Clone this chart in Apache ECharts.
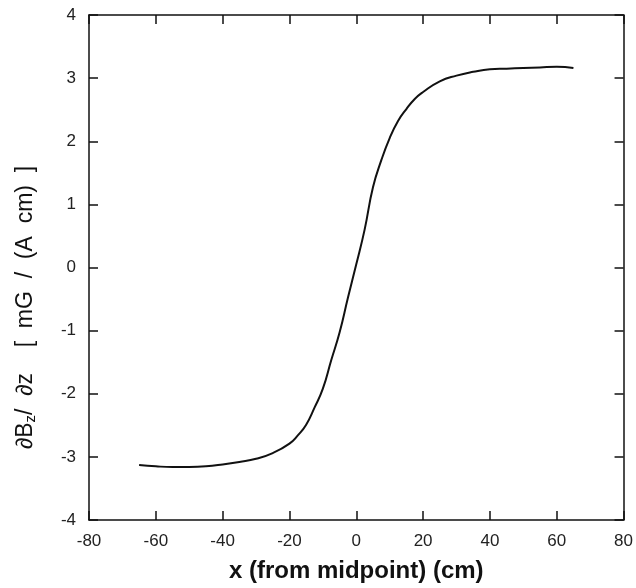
<!DOCTYPE html>
<html>
<head>
<meta charset="utf-8">
<script src="https://cdn.jsdelivr.net/npm/echarts@6/dist/echarts.min.js"></script>
<style>
  html, body { margin: 0; padding: 0; background: #fff; }
  #chart { width: 636px; height: 588px; }
</style>
</head>
<body>
<div id="chart"></div>
<script>
// x position (cm) and gradient values
const xPos = [-65, -60, -55, -50, -45, -40, -35, -30, -25, -20, -17.5, -15, -12.5, -10, -7.5, -5, -2.5,
  0, 2.5, 5, 7.5, 10, 12.5, 15, 17.5, 20, 25, 30, 35, 40, 45, 50, 55, 60, 65]
const gradient = [-3.13, -3.15, -3.16, -3.16, -3.15, -3.12, -3.08, -3.03, -2.94, -2.79, -2.66, -2.49, -2.22,
  -1.92, -1.47, -1.03, -0.48, 0.05, 0.60, 1.27, 1.70, 2.05, 2.32, 2.51, 2.67, 2.78, 2.95, 3.04, 3.10,
  3.14, 3.15, 3.16, 3.17, 3.18, 3.16]
const xTicks = [-80, -60, -40, -20, 0, 20, 40, 60, 80]
const yTicks = [-4, -3, -2, -1, 0, 1, 2, 3, 4]

const mychart = echarts.init(document.getElementById('chart'))
const font = 'Liberation Sans, Arial, sans-serif'

const axisBase = {
  axisLine: {show: true, onZero: false, lineStyle: {color: '#111', width: 1.5}},
  axisTick: {show: true, inside: true, length: 9, lineStyle: {color: '#111', width: 1.5}},
  splitLine: {show: false}
}

const option = {
  animation: false,
  backgroundColor: '#fff',
  grid: {left: 89, top: 15, right: 12, bottom: 62},
  xAxis: [
    Object.assign({}, axisBase, {
      type: 'value', min: xTicks[0], max: xTicks[xTicks.length - 1], interval: 20,
      axisLabel: {color: '#222', fontSize: 17, fontFamily: font, margin: 13},
      name: 'x (from midpoint) (cm)',
      nameLocation: 'middle',
      nameGap: 39,
      nameTextStyle: {color: '#111', fontSize: 24, fontWeight: 'bold', fontFamily: font}
    }),
    Object.assign({}, axisBase, {
      type: 'value', position: 'top', min: xTicks[0], max: xTicks[xTicks.length - 1], interval: 20,
      axisLabel: {show: false}
    })
  ],
  yAxis: [
    Object.assign({}, axisBase, {
      type: 'value', min: yTicks[0], max: yTicks[yTicks.length - 1], interval: 1,
      axisLabel: {color: '#222', fontSize: 17, fontFamily: font, margin: 13},
      name: '{a|∂B}{s|z}{a|/  ∂z    [  mG  /  (A  cm)  ]}',
      nameLocation: 'middle',
      nameGap: 51,
      nameRotate: 90,
      nameTextStyle: {
        padding: [0, 80, 0, 0],
        rich: {
          a: {color: '#111', fontSize: 23, fontFamily: font},
          s: {color: '#111', fontSize: 15, fontFamily: font, verticalAlign: 'bottom', padding: [10, 0, 0, 0]}
        }
      }
    }),
    Object.assign({}, axisBase, {
      type: 'value', position: 'right', min: yTicks[0], max: yTicks[yTicks.length - 1], interval: 1,
      axisLabel: {show: false}
    })
  ],
  series: [
    {
      type: 'line',
      data: xPos.map((x, i) => [x, gradient[i]]),
      smooth: true,
      showSymbol: false,
      lineStyle: {color: '#111', width: 2}
    }
  ]
}
mychart.setOption(option)
</script>
</body>
</html>
